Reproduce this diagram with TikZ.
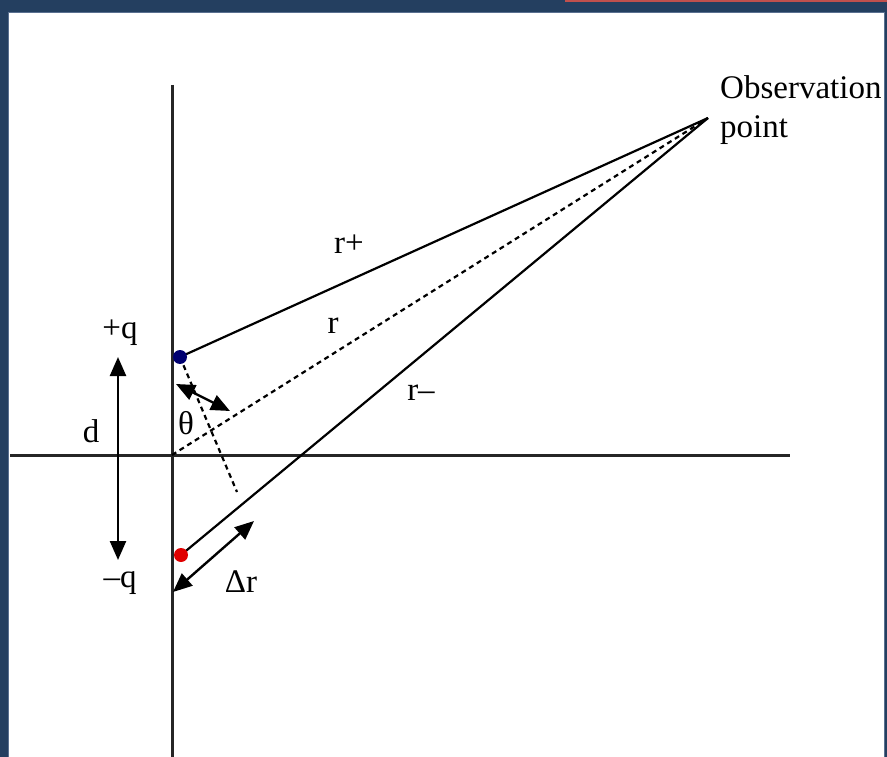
\documentclass[tikz,border=0pt]{standalone}
\usepackage{fontspec}
\setmainfont{Liberation Serif}
\usetikzlibrary{arrows.meta}
\definecolor{frameblue}{HTML}{243F60}
\definecolor{frameedge}{HTML}{5A7090}
\definecolor{topred}{HTML}{C0504D}
\definecolor{dotblue}{HTML}{000070}
\definecolor{dotred}{HTML}{E00000}
\definecolor{axisgray}{HTML}{262626}
\begin{document}
\begin{tikzpicture}[x=1pt,y=-1pt,
  lbl/.style={font=\fontsize{33}{35}\selectfont, inner sep=0pt},
  axisline/.style={line width=3pt, draw=axisgray},
  thinline/.style={line width=2.2pt},
  dashline/.style={line width=2.2pt, dash pattern=on 5pt off 4pt},
  dblarrow/.style={line width=2.4pt, {Triangle[length=19pt,width=16pt]}-{Triangle[length=19pt,width=16pt]}},
  chargedot/.style={circle, inner sep=0pt, minimum size=14pt}]
\useasboundingbox (0,0) rectangle (887,757);
\fill[frameblue] (0,0) rectangle (887,757);
\fill[white] (8,12) rectangle (884,757);
\draw[frameedge, line width=0.8pt] (8,757) -- (8,12) -- (884,12) -- (884,757);
\draw[topred, line width=1.6pt] (565,0.8) -- (887,0.8);
% key points
\coordinate (vtop) at (172,85);
\coordinate (vbot) at (172,757);
\coordinate (hleft) at (10,455);
\coordinate (hright) at (790,455);
\coordinate (O) at (172,455);
\coordinate (P) at (708,118);
\coordinate (qp) at (180,357);
\coordinate (qm) at (181,555);
\coordinate (foot) at (237,492);
\coordinate (sa) at (176,384);
\coordinate (sb) at (230,411);
\coordinate (da) at (173,592);
\coordinate (db) at (254,521);
\coordinate (dt) at (118,357);
\coordinate (dbm) at (118,560);
% axes
\draw[axisline] (vtop) -- (vbot);
\draw[axisline] (hleft) -- (hright);
% lines to observation point
\draw[thinline] (qp) -- (P);
\draw[dashline] (O) -- (P);
\draw[thinline] (qm) -- (P);
\draw[dashline] (qp) -- (foot);
% arrows
\draw[dblarrow] (sa) -- (sb);
\draw[dblarrow] (da) -- (db);
\draw[dblarrow] (dt) -- (dbm);
% charges
\node[chargedot, fill=dotblue] (qpdot) at (qp) {};
\node[chargedot, fill=dotred] (qmdot) at (qm) {};
% labels
\node[lbl] (lqp) at (120,333) {+q};
\node[lbl] (ld) at (91,431) {d};
\node[lbl] (lth) at (186,423) {θ};
\node[lbl] (lqm) at (120,583) {–q};
\node[lbl] (ldr) at (241,582) {Δr};
\node[lbl] (lrp) at (349,244) {r+};
\node[lbl] (lr) at (333,326) {r};
\node[lbl] (lrm) at (421,393) {r–};
\node[lbl, anchor=west] (lobs) at (720,87) {Observation};
\node[lbl, anchor=west] (lpt) at (720,130) {point};
\end{tikzpicture}
\end{document}
